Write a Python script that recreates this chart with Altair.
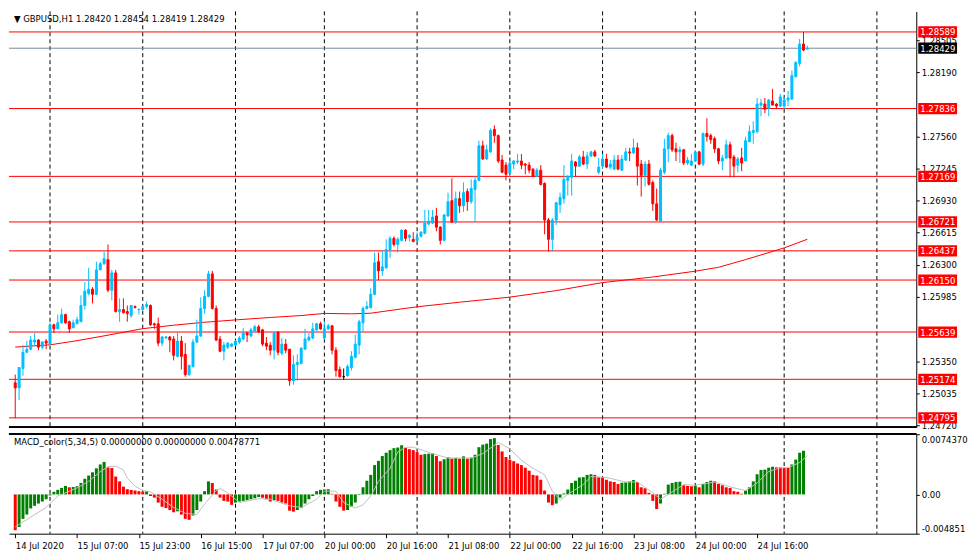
import json
import altair as alt
import pandas as pd

# ---------------- data ----------------
opens = [1.2514,1.2509,1.2528,1.2544,1.2547,1.2554,1.2556,1.2549,1.2555,1.2552,
1.2571,1.2567,1.2573,1.2581,1.2574,1.2568,1.2572,1.2574,1.2590,1.2602,
1.2606,1.2601,1.2625,1.2631,1.2635,1.2605,1.2622,1.2584,1.2586,1.2584,
1.2580,1.2589,1.25859,1.2586,1.2589,1.2590,1.2572,1.2572,1.2553,1.2558,
1.2559,1.2557,1.2540,1.2555,1.2542,1.2522,1.2530,1.2554,1.2560,1.2587,
1.2599,1.2621,1.2587,1.2557,1.2545,1.2549,1.2550,1.2551,1.2554,1.2557,
1.2563,1.2560,1.2565,1.2569,1.2566,1.2553,1.2551,1.2546,1.2564,1.2543,
1.2552,1.2547,1.2516,1.2532,1.2533,1.2547,1.2556,1.2558,1.2566,1.2572,
1.2558,1.2567,1.2570,1.2546,1.2527,1.2520,1.2521,1.2529,1.2539,1.2551,
1.2573,1.2587,1.2588,1.2601,1.2633,1.2624,1.2627,1.2645,1.2656,1.2650,
1.2654,1.2664,1.2657,1.2655,1.2654,1.2658,1.2661,1.2670,1.2671,1.2678,
1.2667,1.2654,1.2678,1.2693,1.2672,1.2695,1.2688,1.2702,1.2692,1.2704,
1.2713,1.2747,1.2734,1.2741,1.2763,1.2757,1.2733,1.2728,1.2720,1.2729,
1.2731,1.2732,1.2729,1.2728,1.2724,1.2717,1.2723,1.2710,1.2674,1.2655,
1.2674,1.2689,1.2695,1.2713,1.2716,1.2731,1.2727,1.2736,1.2729,1.2737,
1.2741,1.2721,1.2727,1.2734,1.2726,1.2724,1.2733,1.2723,1.2733,1.2741,
1.2740,1.2745,1.2729,1.2718,1.2729,1.2711,1.2690,1.2673,1.2721,1.2744,
1.2757,1.2744,1.2741,1.2743,1.2730,1.2728,1.2732,1.2741,1.2729,1.2759,
1.2757,1.2754,1.2744,1.2732,1.2735,1.2748,1.2736,1.2728,1.2735,1.2732,
1.2751,1.2760,1.2761,1.2787,1.2788,1.2784,1.2791,1.2788,1.2786,1.2786,
1.2792,1.2793,1.2815,1.2828,1.2847,1.28420]

highs = [1.2522,1.2529,1.2551,1.2555,1.2560,1.2563,1.2557,1.2555,1.2557,1.2573,
1.2572,1.2581,1.2587,1.2582,1.2575,1.2576,1.2579,1.2600,1.2613,1.2627,
1.2608,1.2633,1.2633,1.2643,1.2650,1.2625,1.2625,1.2597,1.2597,1.2590,
1.2590,1.2590,1.2587,1.2590,1.2594,1.2591,1.2573,1.2578,1.2560,1.2560,
1.2560,1.2560,1.2564,1.2560,1.2553,1.2532,1.2557,1.2576,1.2598,1.2605,
1.2624,1.2624,1.2590,1.2560,1.2554,1.2554,1.2553,1.2556,1.2560,1.2568,
1.2564,1.2568,1.2571,1.2571,1.2567,1.2559,1.2554,1.2564,1.2564,1.2558,
1.2557,1.2547,1.2541,1.2542,1.2549,1.2567,1.2563,1.2573,1.2573,1.2574,
1.2574,1.2572,1.2571,1.2549,1.2530,1.2528,1.2532,1.2545,1.2561,1.2576,
1.2589,1.2594,1.2607,1.2642,1.2642,1.2644,1.2655,1.2658,1.2658,1.2657,
1.2665,1.2665,1.2660,1.2662,1.2662,1.2663,1.2684,1.2684,1.2684,1.2686,
1.2668,1.2680,1.2701,1.2715,1.2702,1.2702,1.2711,1.2705,1.2714,1.2717,
1.2752,1.2752,1.2748,1.2764,1.2767,1.2758,1.2738,1.2731,1.2733,1.2733,
1.2739,1.2739,1.2730,1.2731,1.2725,1.2725,1.2728,1.2711,1.2676,1.2676,
1.2692,1.2701,1.2728,1.2718,1.2739,1.2732,1.2738,1.2742,1.2741,1.2742,
1.2743,1.2735,1.2739,1.2739,1.2733,1.2738,1.2738,1.2738,1.2745,1.2745,
1.2754,1.2750,1.2733,1.2732,1.2733,1.2713,1.2705,1.2725,1.2754,1.2760,
1.2759,1.2750,1.2746,1.2744,1.2736,1.2739,1.2742,1.2742,1.2760,1.2774,
1.2759,1.2756,1.2745,1.2738,1.2753,1.2751,1.2738,1.2736,1.2745,1.2756,
1.2767,1.2771,1.2794,1.2793,1.2794,1.2793,1.2803,1.2789,1.2798,1.2795,
1.2801,1.2821,1.2830,1.2852,1.2859,1.28454]

lows = [1.2479,1.2497,1.2521,1.2543,1.2546,1.2550,1.2546,1.2547,1.2547,1.2551,
1.2563,1.2567,1.2572,1.2572,1.2563,1.2568,1.2572,1.2574,1.2586,1.2600,
1.2592,1.2600,1.2625,1.2630,1.2603,1.2595,1.2583,1.2574,1.2582,1.2574,
1.2578,1.2587,1.2581,1.2585,1.2587,1.2570,1.2567,1.2550,1.2550,1.2557,
1.2544,1.2536,1.2539,1.2527,1.2520,1.2521,1.2529,1.2553,1.2559,1.2582,
1.2598,1.2586,1.2555,1.2544,1.2536,1.2547,1.2549,1.2550,1.2552,1.2556,
1.2554,1.2559,1.2564,1.2563,1.2550,1.2546,1.2541,1.2537,1.2541,1.2541,
1.2543,1.2511,1.2512,1.2516,1.2532,1.2547,1.2555,1.2557,1.2565,1.2566,
1.2556,1.2566,1.2542,1.2520,1.2519,1.2517,1.2520,1.2526,1.2538,1.2542,
1.2564,1.2586,1.2587,1.2600,1.2615,1.2619,1.2626,1.2637,1.2648,1.2642,
1.2653,1.2653,1.2653,1.2652,1.2653,1.2657,1.2660,1.2669,1.2670,1.2663,
1.2650,1.2653,1.2677,1.2671,1.2670,1.2681,1.2682,1.2683,1.2690,1.2672,
1.2712,1.2733,1.2733,1.2740,1.2750,1.2730,1.2720,1.2713,1.2719,1.2724,
1.2729,1.2724,1.2719,1.2720,1.2716,1.2716,1.2708,1.2660,1.2643,1.2643,
1.2669,1.2681,1.2690,1.2698,1.2698,1.2717,1.2726,1.2728,1.2724,1.2736,
1.2736,1.2719,1.2725,1.2725,1.2724,1.2723,1.2723,1.2722,1.2732,1.2732,
1.2739,1.2708,1.2697,1.2707,1.2708,1.2683,1.2673,1.2672,1.2719,1.2731,
1.2741,1.2732,1.2730,1.2728,1.2728,1.2727,1.2731,1.2728,1.2727,1.2751,
1.2749,1.2740,1.2729,1.2723,1.2734,1.2716,1.2716,1.2721,1.2722,1.2732,
1.2751,1.2749,1.2759,1.2776,1.2779,1.2776,1.2787,1.2783,1.2785,1.2783,
1.2786,1.2792,1.2814,1.2825,1.2840,1.28419]

closes = [1.2509,1.2529,1.2544,1.2547,1.2556,1.2556,1.2549,1.2554,1.2553,1.2571,
1.2567,1.2573,1.2581,1.2573,1.2567,1.2573,1.2576,1.2590,1.2604,1.2606,
1.2601,1.2625,1.2631,1.2636,1.2605,1.2622,1.2584,1.2586,1.2583,1.2582,
1.2590,1.2588,1.25862,1.2589,1.2591,1.2571,1.2571,1.2553,1.2559,1.2559,
1.2556,1.2541,1.2555,1.2540,1.2522,1.2531,1.2554,1.2560,1.2587,1.2599,
1.2621,1.2587,1.2556,1.2545,1.2551,1.2553,1.2552,1.2555,1.2558,1.2563,
1.2561,1.2566,1.2569,1.2564,1.2552,1.2550,1.2546,1.2563,1.2544,1.2552,
1.2546,1.2516,1.2532,1.2534,1.2548,1.2557,1.2559,1.2567,1.2572,1.2567,
1.2567,1.2570,1.2546,1.2526,1.2520,1.2520,1.2530,1.2540,1.2552,1.2574,
1.2587,1.2589,1.2601,1.2632,1.2624,1.2628,1.2645,1.2656,1.2650,1.2655,
1.2664,1.2656,1.2659,1.2653,1.2657,1.2662,1.2671,1.2673,1.2677,1.2667,
1.2654,1.2679,1.2692,1.2672,1.2695,1.2688,1.2701,1.2692,1.2705,1.2713,
1.2747,1.2734,1.2743,1.2762,1.2757,1.2732,1.2721,1.2719,1.2730,1.2732,
1.2732,1.2728,1.2728,1.2723,1.2717,1.2723,1.2709,1.2674,1.2655,1.2674,
1.2691,1.2696,1.2714,1.2717,1.2732,1.2727,1.2736,1.2729,1.2737,1.2741,
1.2737,1.2726,1.2734,1.2726,1.2729,1.2733,1.2724,1.2734,1.2741,1.2740,
1.2745,1.2727,1.2718,1.2729,1.2709,1.2690,1.2674,1.2723,1.2744,1.2757,
1.2743,1.2741,1.2743,1.2730,1.2733,1.2732,1.2741,1.2729,1.2759,1.2756,
1.2753,1.2744,1.2732,1.2735,1.2748,1.2735,1.2727,1.2734,1.2730,1.2752,
1.2761,1.2762,1.2788,1.2789,1.2783,1.2792,1.2787,1.2786,1.2795,1.2792,
1.2794,1.2816,1.2829,1.2847,1.2841,1.28429]

# moving average (read at sample bars)
ma_idx = [0,9,16,24,33,41,49,57,66,74,80,87,92,98,104,115,128,140,152,165,176,182,189,199,205]
ma_val = [1.25491,1.25513,1.25554,1.25608,1.25672,1.25706,1.25735,1.25758,1.25782,1.25801,
          1.25822,1.25818,1.25824,1.25856,1.25887,1.25932,1.25982,1.26046,1.26125,1.26180,
          1.26237,1.26275,1.26351,1.26466,1.26551]

levels = [1.28589,1.27836,1.27169,1.26721,1.26437,1.26150,1.25639,1.25174,1.24795]
current_price = [1.28429]

price_ticks = [1.28505,1.28190,1.27560,1.27245,1.26930,1.26615,1.26300,1.25985,1.25350,1.25035,1.24720]

macd_hist = [-0.00442,-0.00402,-0.00302,-0.00249,-0.00173,-0.00141,-0.00113,-0.00088,-0.00060,-0.00012,
0.00032,0.00056,0.00080,0.00105,0.00088,0.00092,0.00101,0.00141,0.00193,0.00233,
0.00273,0.00322,0.00370,0.00402,0.00334,0.00326,0.00221,0.00161,0.00096,0.00064,
0.00056,0.00048,0.00040,0.00032,0.00040,-0.00020,-0.00040,-0.00101,-0.00153,-0.00169,
-0.00193,-0.00221,-0.00209,-0.00249,-0.00302,-0.00314,-0.00261,-0.00193,-0.00088,0.00040,
0.00161,0.00141,0.00060,-0.00040,-0.00080,-0.00088,-0.00129,-0.00101,-0.00088,-0.00080,
-0.00072,-0.00060,-0.00048,-0.00032,-0.00040,-0.00060,-0.00088,-0.00072,-0.00080,-0.00101,
-0.00113,-0.00201,-0.00213,-0.00193,-0.00169,-0.00113,-0.00060,-0.00020,0.00040,0.00056,
0.00060,0.00064,0.00008,-0.00088,-0.00153,-0.00201,-0.00193,-0.00153,-0.00101,-0.00008,
0.00088,0.00169,0.00241,0.00362,0.00414,0.00474,0.00515,0.00547,0.00571,0.00579,
0.00607,0.00575,0.00559,0.00547,0.00523,0.00490,0.00498,0.00503,0.00507,0.00474,
0.00410,0.00434,0.00458,0.00442,0.00450,0.00442,0.00470,0.00442,0.00454,0.00490,
0.00583,0.00615,0.00627,0.00683,0.00695,0.00611,0.00531,0.00462,0.00430,0.00410,
0.00382,0.00362,0.00330,0.00293,0.00241,0.00233,0.00181,0.00048,-0.00101,-0.00133,
-0.00113,-0.00040,0.00012,0.00060,0.00141,0.00169,0.00209,0.00213,0.00241,0.00249,
0.00241,0.00213,0.00209,0.00181,0.00161,0.00153,0.00129,0.00145,0.00149,0.00161,
0.00177,0.00153,0.00088,0.00076,0.00020,-0.00080,-0.00181,-0.00113,0.00008,0.00121,
0.00141,0.00153,0.00157,0.00113,0.00105,0.00101,0.00109,0.00088,0.00129,0.00153,
0.00169,0.00161,0.00129,0.00113,0.00088,0.00080,0.00040,0.00032,0.00008,0.00048,
0.00088,0.00161,0.00249,0.00302,0.00306,0.00330,0.00342,0.00334,0.00332,0.00330,
0.00328,0.00370,0.00430,0.00515,0.00539]

sig_idx = [0,4,8,11,16,19,22,24,26,28,29,31,33,35,38,41,44,47,49,52,53,55,58,63,66,71,74,78,80,83,
           85,88,90,92,94,97,99,101,103,108,112,118,121,125,128,131,134,137,139,141,143,147,149,153,
           158,161,165,167,169,173,176,181,186,189,192,195,198,200,203,205]
sig_val = [-0.00402,-0.00281,-0.00161,-0.00020,0.00080,0.00161,0.00281,0.00342,0.00350,0.00302,
           0.00201,0.00101,0.00048,0.00032,-0.00060,-0.00161,-0.00233,-0.00249,-0.00121,0.00048,
           0.00072,0.00020,-0.00101,-0.00052,-0.00060,-0.00141,-0.00161,-0.00060,0.00040,0.00040,
           -0.00101,-0.00169,-0.00129,-0.00020,0.00161,0.00322,0.00523,0.00583,0.00583,0.00503,
           0.00450,0.00450,0.00503,0.00643,0.00563,0.00422,0.00322,0.00241,0.00040,-0.00072,
           0.00000,0.00121,0.00221,0.00209,0.00153,0.00153,0.00020,-0.00060,0.00000,0.00121,
           0.00113,0.00153,0.00080,0.00048,0.00141,0.00281,0.00330,0.00330,0.00394,0.00479]

macd_ticks = [0.0074370, 0.0, -0.004851]
macd_tick_labels = ["0.0074370", "0.00", "-0.004851"]

grid_idx = [9,33,57,80,104,128,152,176,199,223]
xlabel_idx = [0,16,32,48,64,80,96,112,128,144,160,176,192]
xlabels = ["14 Jul 2020","15 Jul 07:00","15 Jul 23:00","16 Jul 15:00","17 Jul 07:00",
           "20 Jul 00:00","20 Jul 16:00","21 Jul 08:00","22 Jul 00:00","22 Jul 16:00",
           "23 Jul 08:00","24 Jul 00:00","24 Jul 16:00"]

price_title = "\u25BC GBPUSD,H1  1.28420 1.28454 1.28419 1.28429"
macd_title = "MACD_color(5,34,5) 0.00000000 0.00000000 0.00478771"

# ---------------- layout / style ----------------
W, HP, HM = 912, 418, 100
XDOM = [-0.33, 231.9]
PDOM = [1.24703, 1.28791]
MDOM = [-0.004851, 0.007437]
FONT = "DejaVu Sans Condensed, Liberation Sans Narrow, Liberation Sans, sans-serif"
FS = 9.5
BULL, BEAR, DOJI = "#00BFFF", "#FF0000", "#000000"
BOX = "M-1,-0.29L1,-0.29L1,0.29L-1,0.29Z"
BOXW = 39

n = len(opens)
candles = pd.DataFrame({"i": list(range(n)), "open": opens, "high": highs,
                        "low": lows, "close": closes})
candles["c"] = [BULL if c > o else (BEAR if c < o else DOJI) for o, c in zip(opens, closes)]

hist = pd.DataFrame({"i": list(range(len(macd_hist))), "v": macd_hist})
hist["c"] = ["#FF0000" if k == 0 or v <= macd_hist[k - 1] else "#008000"
             for k, v in enumerate(macd_hist)]

ma = pd.DataFrame({"i": ma_idx, "p": ma_val})
sig = pd.DataFrame({"i": sig_idx, "v": sig_val})
lev = pd.DataFrame({"p": levels, "t": [f"{v:.5f}" for v in levels]})
cur = pd.DataFrame({"p": current_price, "t": [f"{v:.5f}" for v in current_price]})
grid = pd.DataFrame({"i": grid_idx})

xs = alt.Scale(domain=XDOM, nice=False, zero=False)
ps = alt.Scale(domain=PDOM, nice=False, zero=False)
ms = alt.Scale(domain=MDOM, nice=False, zero=False)

X = alt.X("i:Q", scale=xs, axis=None)
pax = alt.Axis(orient="right", values=price_ticks, format=".5f", tickSize=3,
               labelPadding=2, grid=False, title=None, labelOverlap=False,
               labelFont=FONT, labelFontSize=FS, labelColor="black",
               domainColor="black", tickColor="black")


def PY(field):
    return alt.Y(f"{field}:Q", scale=ps, axis=pax)


gridp = alt.Chart(grid).mark_rule(color="black", strokeDash=[4, 3], strokeWidth=1).encode(x=X)
levl = alt.Chart(lev).mark_rule(color="#FF0000", strokeWidth=1).encode(y=PY("p"))
curl = alt.Chart(cur).mark_rule(color="#778899", strokeWidth=1).encode(y=PY("p"))
mal = alt.Chart(ma).mark_line(color="#FF0000", strokeWidth=1).encode(x=X, y=PY("p"))
wick = alt.Chart(candles).mark_rule(strokeWidth=1).encode(
    x=X, y=PY("low"), y2="high:Q", color=alt.Color("c:N", scale=None))
body = alt.Chart(candles).mark_bar(size=2, strokeWidth=1, orient="vertical").encode(
    x=X, y=PY("open"), y2="close:Q", fill=alt.Fill("c:N", scale=None),
    stroke=alt.Stroke("c:N", scale=None))
levbox = alt.Chart(lev).mark_point(shape=BOX, filled=True, size=BOXW * BOXW, opacity=1,
                                   color="#FF0000").encode(x=alt.value(W + 2 + BOXW / 2), y=PY("p"))
levtxt = alt.Chart(lev).mark_text(align="left", baseline="middle", color="white",
                                  font=FONT, fontSize=FS, dy=0.5).encode(
    x=alt.value(W + 4), y=PY("p"), text="t:N")
curbox = alt.Chart(cur).mark_point(shape=BOX, filled=True, size=BOXW * BOXW, opacity=1,
                                   color="#000000").encode(x=alt.value(W + 2 + BOXW / 2), y=PY("p"))
curtxt = alt.Chart(cur).mark_text(align="left", baseline="middle", color="white",
                                  font=FONT, fontSize=FS, dy=0.5).encode(
    x=alt.value(W + 4), y=PY("p"), text="t:N")
ptitle = alt.Chart(pd.DataFrame({"t": [price_title]})).mark_text(
    align="left", baseline="middle", font=FONT, fontSize=FS, color="black").encode(
    x=alt.value(5), y=alt.value(8), text="t:N")
pborder = alt.Chart(grid).mark_rule(color="black", strokeWidth=1).encode(y=alt.value(HP))

price = alt.layer(gridp, levl, curl, mal, wick, body, levbox, levtxt, curbox, curtxt,
                  ptitle, pborder).properties(width=W, height=HP)

# ---- MACD panel ----
label_expr = f"{json.dumps(xlabels)}[indexof({json.dumps(xlabel_idx)}, datum.value)]"
mlabel_expr = (f"{json.dumps(macd_tick_labels)}[indexof({json.dumps(macd_ticks)}, datum.value)]")
xax = alt.Axis(orient="bottom", values=xlabel_idx, labelExpr=label_expr, tickSize=4,
               labelAlign="left", labelPadding=3, labelOverlap=False, labelFlush=False,
               labelBound=False, grid=False, title=None, labelFont=FONT, labelFontSize=FS,
               labelColor="black", domainColor="black", tickColor="black")
MX = alt.X("i:Q", scale=xs, axis=xax)
max_ = alt.Axis(orient="right", values=macd_ticks, labelExpr=mlabel_expr, tickSize=3,
                labelPadding=2, grid=False, title=None, labelFlush=True, labelOverlap=False,
                labelFont=FONT, labelFontSize=FS, labelColor="black",
                domainColor="black", tickColor="black")


def MY(field):
    return alt.Y(f"{field}:Q", scale=ms, axis=max_)


gridm = alt.Chart(grid).mark_rule(color="black", strokeDash=[4, 3], strokeWidth=1).encode(x=MX)
bars = alt.Chart(hist).mark_bar(size=3, orient="vertical").encode(
    x=MX, y=MY("v"), y2=alt.datum(0), color=alt.Color("c:N", scale=None))
sigl = alt.Chart(sig).mark_line(color="#C0C0C0", strokeWidth=1).encode(x=MX, y=MY("v"))
mtitle = alt.Chart(pd.DataFrame({"t": [macd_title]})).mark_text(
    align="left", baseline="middle", font=FONT, fontSize=FS, color="black").encode(
    x=alt.value(5), y=alt.value(8), text="t:N")
mborder = alt.Chart(grid).mark_rule(color="black", strokeWidth=1).encode(y=alt.value(0))

macd = alt.layer(gridm, bars, sigl, mtitle, mborder).properties(width=W, height=HM)

chart = alt.vconcat(price, macd, spacing=3).properties(
    padding={"left": 0, "top": 1, "right": 0, "bottom": 0},
    background="white",
).configure_view(stroke=None).configure_concat(spacing=3)

chart.save("out.html", embed_options={"renderer": "svg", "actions": False})
